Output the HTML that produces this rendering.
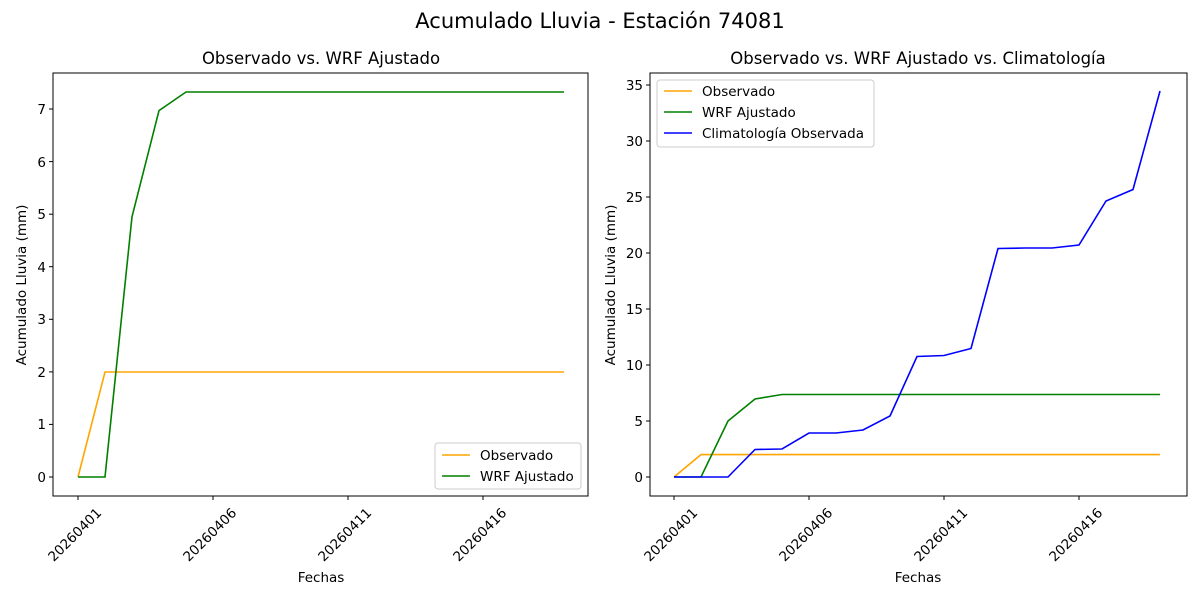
<!DOCTYPE html>
<html><head><meta charset="utf-8"><style>body{margin:0;background:#fff}svg{display:block}text{font-family:"DejaVu Sans","Liberation Sans",sans-serif;fill:#000}</style></head><body>
<svg width="1200" height="600" viewBox="0 0 1200 600" xmlns="http://www.w3.org/2000/svg">
<text x="600" y="28" font-size="21" text-anchor="middle">Acumulado Lluvia - Estación 74081</text>
<!-- LEFT -->
<text x="321" y="64" font-size="16.5" text-anchor="middle">Observado vs. WRF Ajustado</text>
<rect x="53" y="73" width="535" height="423" fill="none" stroke="#000" stroke-width="1"/>
<g stroke="#000" stroke-width="1">
<line x1="78" y1="496" x2="78" y2="500"/><line x1="213" y1="496" x2="213" y2="500"/><line x1="348" y1="496" x2="348" y2="500"/><line x1="483" y1="496" x2="483" y2="500"/>
<line x1="49" y1="477" x2="53" y2="477"/><line x1="49" y1="424.4" x2="53" y2="424.4"/><line x1="49" y1="371.9" x2="53" y2="371.9"/><line x1="49" y1="319.3" x2="53" y2="319.3"/><line x1="49" y1="266.7" x2="53" y2="266.7"/><line x1="49" y1="214.2" x2="53" y2="214.2"/><line x1="49" y1="161.6" x2="53" y2="161.6"/><line x1="49" y1="109" x2="53" y2="109"/>
</g>
<g font-size="13.5" text-anchor="end">
<text x="46" y="482">0</text><text x="46" y="429">1</text><text x="46" y="377">2</text><text x="46" y="324">3</text><text x="46" y="272">4</text><text x="46" y="219">5</text><text x="46" y="167">6</text><text x="46" y="114">7</text>
</g>
<g font-size="13.5" text-anchor="middle">
<text transform="translate(78,538) rotate(-45)">20260401</text>
<text transform="translate(213,538) rotate(-45)">20260406</text>
<text transform="translate(348,538) rotate(-45)">20260411</text>
<text transform="translate(483,538) rotate(-45)">20260416</text>
</g>
<text x="321" y="582" font-size="13.5" text-anchor="middle">Fechas</text>
<text transform="translate(26,285) rotate(-90)" font-size="13.5" text-anchor="middle">Acumulado Lluvia (mm)</text>
<polyline fill="none" stroke="orange" stroke-width="1.6" points="78,477 105,372 564,372"/>
<polyline fill="none" stroke="green" stroke-width="1.6" points="78,477 105,477 132,216.8 159,110.6 186,92 564,92"/>
<rect x="435" y="443" width="146" height="46" rx="3" fill="#fff" fill-opacity="0.8" stroke="#ccc"/>
<line x1="442" y1="455" x2="470" y2="455" stroke="orange" stroke-width="1.6"/><text x="480" y="460" font-size="13.5">Observado</text>
<line x1="442" y1="476" x2="470" y2="476" stroke="green" stroke-width="1.6"/><text x="480" y="481" font-size="13.5">WRF Ajustado</text>
<!-- RIGHT -->
<text x="918" y="64" font-size="16.5" text-anchor="middle">Observado vs. WRF Ajustado vs. Climatología</text>
<rect x="650" y="73" width="537" height="423" fill="none" stroke="#000" stroke-width="1"/>
<g stroke="#000" stroke-width="1">
<line x1="674" y1="496" x2="674" y2="500"/><line x1="809" y1="496" x2="809" y2="500"/><line x1="944" y1="496" x2="944" y2="500"/><line x1="1079" y1="496" x2="1079" y2="500"/>
<line x1="646" y1="477" x2="650" y2="477"/><line x1="646" y1="421" x2="650" y2="421"/><line x1="646" y1="365" x2="650" y2="365"/><line x1="646" y1="309" x2="650" y2="309"/><line x1="646" y1="253" x2="650" y2="253"/><line x1="646" y1="197" x2="650" y2="197"/><line x1="646" y1="141" x2="650" y2="141"/><line x1="646" y1="85" x2="650" y2="85"/>
</g>
<g font-size="13.5" text-anchor="end">
<text x="643" y="482">0</text><text x="643" y="426">5</text><text x="643" y="370">10</text><text x="643" y="314">15</text><text x="643" y="258">20</text><text x="643" y="202">25</text><text x="643" y="146">30</text><text x="643" y="90">35</text>
</g>
<g font-size="13.5" text-anchor="middle">
<text transform="translate(674,538) rotate(-45)">20260401</text>
<text transform="translate(809,538) rotate(-45)">20260406</text>
<text transform="translate(944,538) rotate(-45)">20260411</text>
<text transform="translate(1079,538) rotate(-45)">20260416</text>
</g>
<text x="918" y="582" font-size="13.5" text-anchor="middle">Fechas</text>
<text transform="translate(615,285) rotate(-90)" font-size="13.5" text-anchor="middle">Acumulado Lluvia (mm)</text>
<polyline fill="none" stroke="orange" stroke-width="1.6" points="674,477 701,454.6 1160,454.6"/>
<polyline fill="none" stroke="green" stroke-width="1.6" points="674,477 701,477 728,421 755,399 782,394.5 1160,394.5"/>
<polyline fill="none" stroke="blue" stroke-width="1.6" points="674,477 701,477 728,477 755,449.5 782,449 809,433 836,433 863,430 890,416 917,356.5 944,355.5 971,348.5 998,248.5 1025,248 1052,248 1079,245 1106,201 1133,189.5 1160,91"/>
<rect x="657" y="80" width="217" height="67" rx="3" fill="#fff" fill-opacity="0.8" stroke="#ccc"/>
<line x1="664" y1="91" x2="692" y2="91" stroke="orange" stroke-width="1.6"/><text x="702" y="96" font-size="13.5">Observado</text>
<line x1="664" y1="112" x2="692" y2="112" stroke="green" stroke-width="1.6"/><text x="702" y="117" font-size="13.5">WRF Ajustado</text>
<line x1="664" y1="133" x2="692" y2="133" stroke="blue" stroke-width="1.6"/><text x="702" y="138" font-size="13.5">Climatología Observada</text>
</svg>
</body></html>
